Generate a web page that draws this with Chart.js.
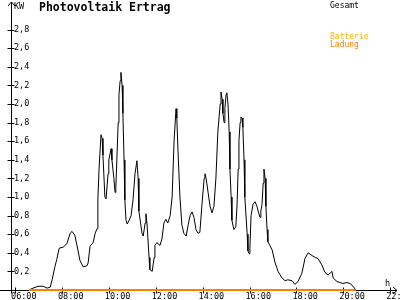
<!DOCTYPE html>
<html><head><meta charset="utf-8">
<script src="https://cdn.jsdelivr.net/npm/chart.js@4/dist/chart.umd.min.js"></script>
<style>html,body{margin:0;padding:0;background:#fff;}canvas{display:block}</style>
</head><body>
<canvas id="c" width="400" height="300"></canvas>
<script>
const times = ['06:36','06:46','06:59','07:12','07:22','07:30','07:35','07:42','07:47','07:53',
'08:03','08:13','08:21','08:26','08:33','08:41','08:46','08:54','09:04','09:07',
'09:12','09:20','09:25','09:30','09:32','09:35','09:40','09:43','09:45','09:50',
'09:53','09:58','10:00','10:06','10:08','10:13','10:16','10:18','10:24','10:26',
'10:29','10:31','10:34','10:36','10:39','10:41','10:44','10:47','10:52','10:57',
'11:02','11:07','11:12','11:15','11:17','11:22','11:25','11:28','11:33','11:35',
'11:38','11:43','11:45','11:51','11:56','11:58','12:03','12:11','12:16','12:21',
'12:26','12:31','12:37','12:42','12:47','12:52','12:54','12:57','13:02','13:07',
'13:12','13:18','13:23','13:28','13:33','13:38','13:43','13:48','13:53','13:58',
'14:04','14:06','14:09','14:14','14:19','14:24','14:29','14:34','14:39','14:45',
'14:47','14:50','14:52','14:55','14:57','15:00','15:02','15:05','15:08','15:10',
'15:13','15:15','15:20','15:25','15:28','15:31','15:33','15:36','15:38','15:41',
'15:43','15:46','15:48','15:54','15:56','15:59','16:01','16:04','16:09','16:14',
'16:19','16:24','16:27','16:29','16:32','16:35','16:37','16:40','16:42','16:45',
'16:47','16:52','16:58','17:05','17:13','17:23','17:31','17:38','17:49','17:56',
'18:04','18:14','18:22','18:30','18:40','18:48','18:55','19:05','19:13','19:21',
'19:31','19:34','19:44','19:52','19:59','20:09','20:17','20:25','20:32'];
const gesamt = [0,0.02,0.04,0.04,0.02,0.03,0.11,0.25,0.33,0.45,
0.46,0.50,0.61,0.63,0.59,0.43,0.32,0.25,0.26,0.29,
0.47,0.51,0.61,0.66,0.97,1.30,1.67,1.63,1.45,1.00,
0.98,1.25,1.40,1.52,1.40,1.20,1.05,1.10,1.80,2.10,
2.25,2.34,2.20,1.90,1.40,0.97,0.75,0.71,0.75,0.80,
0.97,1.25,1.39,1.20,0.85,0.70,0.61,0.58,0.72,0.82,
0.70,0.35,0.22,0.20,0.35,0.48,0.51,0.48,0.55,0.72,
0.76,0.72,0.80,1.00,1.60,1.95,1.85,1.50,1.00,0.70,
0.61,0.58,0.70,0.80,0.84,0.78,0.65,0.61,0.62,0.90,
1.20,1.25,1.20,1.05,0.90,0.83,0.90,1.20,1.70,2.00,
2.13,2.05,1.90,1.80,1.95,2.10,2.12,2.00,1.70,1.30,
1.00,0.75,0.65,0.68,0.90,1.30,1.60,1.80,1.86,1.85,
1.75,1.40,1.00,0.60,0.42,0.39,0.45,0.80,0.92,0.95,
0.90,0.82,0.78,0.85,0.92,1.15,1.30,1.20,0.90,0.65,
0.52,0.48,0.43,0.30,0.20,0.13,0.10,0.11,0.10,0.06,
0.09,0.18,0.34,0.40,0.37,0.35,0.34,0.27,0.19,0.16,
0.20,0.13,0.09,0.08,0.07,0.08,0.07,0.04,0.00];
const ladungTimes = ['06:36','20:32'];
const ladung = [0,0];
const xTickHours = [6,8,10,12,14,16,18,20,22];
const yTickValues = [0.2,0.4,0.6,0.8,1.0,1.2,1.4,1.6,1.8,2.0,2.2,2.4,2.6,2.8];
const titleText = 'Photovoltaik Ertrag';
const unitY = 'KW';
const unitX = 'h';
const legendGesamt = 'Gesamt';
const legendBatterie = 'Batterie';
const legendLadung = 'Ladung';

const toH = t => { const p = t.split(':').map(Number); return p[0] + p[1] / 60; };
const MONO = '"DejaVu Sans Mono", monospace';

const axesPlugin = {
  id: 'axesDraw',
  beforeDatasetsDraw(chart) {
    const { ctx, chartArea: a, scales: { x, y } } = chart;
    const x0 = Math.round(a.left) + 0.5;
    const y0 = Math.round(y.getPixelForValue(0)) + 0.5;
    ctx.save();
    ctx.strokeStyle = '#000';
    ctx.lineWidth = 1;
    ctx.beginPath();
    ctx.moveTo(0, y0); ctx.lineTo(a.right, y0);
    ctx.moveTo(a.right - 4, y0 - 3.5); ctx.lineTo(a.right, y0); ctx.lineTo(a.right - 4, y0 + 3.5);
    ctx.moveTo(x0, y0 + 3); ctx.lineTo(x0, a.top);
    ctx.moveTo(x0 - 3.5, a.top + 4); ctx.lineTo(x0, a.top); ctx.lineTo(x0 + 3.5, a.top + 4);
    yTickValues.forEach(v => {
      const py = Math.round(y.getPixelForValue(v)) + 0.5;
      ctx.moveTo(x0 - 4, py); ctx.lineTo(x0 + 3, py);
    });
    xTickHours.forEach(h => {
      const px = Math.round(x.getPixelForValue(h)) + 0.5;
      ctx.moveTo(px, y0 - 3); ctx.lineTo(px, y0 + 3);
    });
    ctx.stroke();
    ctx.restore();
  },
  afterDraw(chart) {
    const { ctx, chartArea: a, scales: { y } } = chart;
    const y0 = y.getPixelForValue(0);
    ctx.save();
    ctx.textAlign = 'left';
    ctx.textBaseline = 'alphabetic';
    ctx.fillStyle = '#000';
    ctx.font = 'bold 11.5px ' + MONO;
    ctx.fillText(titleText, 39, 11);
    ctx.font = '8.5px ' + MONO;
    ctx.fillText(unitY, a.left + 3, 8.5);
    ctx.fillText(unitX, a.right - 12, y0 - 4.5);
    ctx.font = '8px ' + MONO;
    ctx.fillText(legendGesamt, 330, 7.5);
    ctx.fillStyle = '#ffb000';
    ctx.fillText(legendBatterie, 330, 39);
    ctx.fillStyle = '#ff8000';
    ctx.fillText(legendLadung, 330, 46.5);
    ctx.restore();
  }
};

new Chart(document.getElementById('c').getContext('2d'), {
  type: 'line',
  data: {
    datasets: [
      { label: legendLadung, data: ladungTimes.map((t, i) => ({ x: toH(t), y: ladung[i] })),
        borderColor: '#ff8000', borderWidth: 2, pointRadius: 0, order: 0, clip: 3 },
      { label: legendGesamt, data: times.map((t, i) => ({ x: toH(t), y: gesamt[i] })),
        borderColor: '#000', borderWidth: 1, pointRadius: 0, tension: 0, order: 1, clip: 2 }
    ]
  },
  options: {
    responsive: false, animation: false, devicePixelRatio: 1,
    layout: { padding: { left: 11, right: 3, top: 2, bottom: 0 } },
    plugins: { legend: { display: false }, tooltip: { enabled: false }, title: { display: false } },
    scales: {
      x: {
        type: 'linear', min: 5.829, max: 22.29,
        grid: { display: false, drawTicks: false }, border: { display: false },
        afterBuildTicks: s => { s.ticks = xTickHours.map(v => ({ value: v })); },
        afterFit: s => { s.height = 10; s.paddingLeft = 0; s.paddingRight = 0; },
        ticks: {
          autoSkip: false, maxRotation: 0, align: 'start', labelOffset: -4, padding: 1.5,
          color: '#000', font: { family: MONO, size: 8.5, lineHeight: 1.2 },
          callback: v => String(v).padStart(2, '0') + ':00'
        }
      },
      y: {
        min: 0, max: 3.097,
        grid: { display: false, drawTicks: false }, border: { display: false },
        afterBuildTicks: s => { s.ticks = yTickValues.map(v => ({ value: v })); },
        afterFit: s => { s.width = 0; s.paddingTop = 0; s.paddingBottom = 0; },
        ticks: {
          mirror: true, padding: 3, color: '#000',
          font: { family: MONO, size: 8.5, lineHeight: 1.2 },
          callback: v => Number(v).toFixed(1).replace('.', ',')
        }
      }
    }
  },
  plugins: [axesPlugin]
});
</script>
</body></html>
